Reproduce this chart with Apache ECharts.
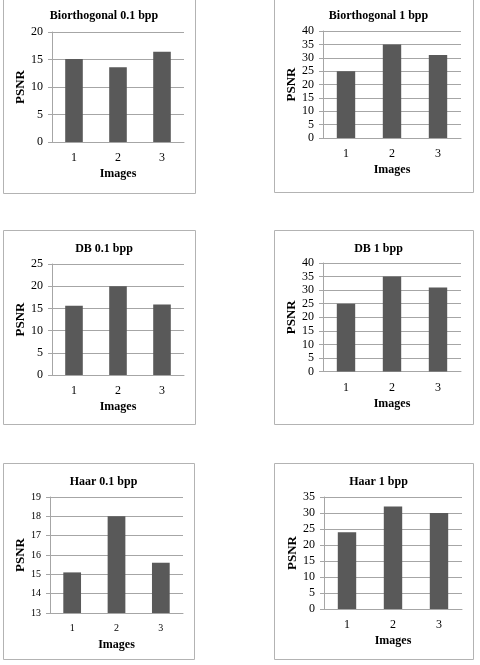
<!DOCTYPE html>
<html>
<head>
<meta charset="utf-8">
<script src="https://cdn.jsdelivr.net/npm/echarts@6/dist/echarts.min.js"></script>
<style>
  html, body { margin: 0; padding: 0; background: #fff; }
  #main { width: 480px; height: 665px; }
</style>
</head>
<body>
<div id="main"></div>
<script>
// 数据
const categories = ['1', '2', '3'];
const titles = ['Biorthogonal 0.1 bpp', 'Biorthogonal 1 bpp', 'DB 0.1 bpp', 'DB 1 bpp', 'Haar 0.1 bpp', 'Haar 1 bpp'];
const bior01 = [15.1, 13.6, 16.4];
const bior1 = [25, 35, 31];
const db01 = [15.6, 20, 15.9];
const db1 = [25, 35, 31];
const haar01 = [15.1, 18, 15.6];
const haar1 = [24, 32, 30];
// y 轴范围 [min, max, interval]
const yRanges = [[0, 20, 5], [0, 40, 5], [0, 25, 5], [0, 40, 5], [13, 19, 1], [0, 35, 5]];
const allData = [bior01, bior1, db01, db1, haar01, haar1];

let myChart = echarts.init(document.getElementById('main'));

// 每个小图的布局
const grids = [
    { left: 52, top: 32, width: 132, height: 110 },
    { left: 323, top: 31, width: 138, height: 107 },
    { left: 52, top: 264, width: 132, height: 111 },
    { left: 323, top: 263, width: 138, height: 108.5 },
    { left: 50, top: 497, width: 133, height: 116 },
    { left: 324, top: 497, width: 138, height: 112 }
];
const boxes = [
    [3, -5, 192, 198],
    [274, -5, 199, 197],
    [3, 230, 192, 194],
    [274, 230, 199, 194],
    [3, 463, 191, 196],
    [274, 463, 199, 196]
];
const titleY = [5, 5, 238, 238, 471, 471];
const psnrGap = [22, 23, 22, 23, 19, 23];
const tickSize = [12, 12, 12, 12, 10, 12];

const font = '"Liberation Serif", "Times New Roman", serif';
const gray = '#a6a6a6';

let option = {
    animation: false,
    title: [],
    grid: [],
    xAxis: [],
    yAxis: [],
    series: [],
    graphic: []
};

for (let i = 0; i < 6; i++) {
    const b = boxes[i];
    option.graphic.push({
        type: 'rect',
        shape: { x: b[0] + 0.5, y: b[1] + 0.5, width: b[2], height: b[3] },
        style: { fill: 'none', stroke: '#b3b3b3', lineWidth: 1 },
        z: -1
    });
    option.title.push({
        text: titles[i],
        left: b[0] + b[2] / 2,
        top: titleY[i],
        textAlign: 'center',
        textStyle: { fontFamily: font, fontSize: 12, fontWeight: 'bold', color: '#000' }
    });
    option.grid.push(grids[i]);
    option.xAxis.push({
        type: 'category',
        gridIndex: i,
        data: categories,
        name: 'Images',
        nameLocation: 'middle',
        nameGap: 26,
        nameTextStyle: { fontFamily: font, fontSize: 12, fontWeight: 'bold', color: '#000' },
        axisLine: { onZero: false, lineStyle: { color: gray } },
        axisTick: { show: false },
        axisLabel: { fontFamily: font, fontSize: tickSize[i], color: '#000', margin: 10 }
    });
    option.yAxis.push({
        type: 'value',
        gridIndex: i,
        min: yRanges[i][0],
        max: yRanges[i][1],
        interval: yRanges[i][2],
        name: 'PSNR',
        nameLocation: 'middle',
        nameGap: psnrGap[i],
        nameRotate: 90,
        nameTextStyle: { fontFamily: font, fontSize: 13, fontWeight: 'bold', color: '#000' },
        axisLine: { show: true, lineStyle: { color: gray } },
        axisTick: { show: true, length: 4, lineStyle: { color: gray } },
        axisLabel: { fontFamily: font, fontSize: tickSize[i], color: '#000', margin: 9 },
        splitLine: { lineStyle: { color: gray } }
    });
    option.series.push({
        type: 'bar',
        xAxisIndex: i,
        yAxisIndex: i,
        data: allData[i],
        barWidth: '40%',
        itemStyle: { color: '#595959' }
    });
}

myChart.setOption(option);
</script>
</body>
</html>
